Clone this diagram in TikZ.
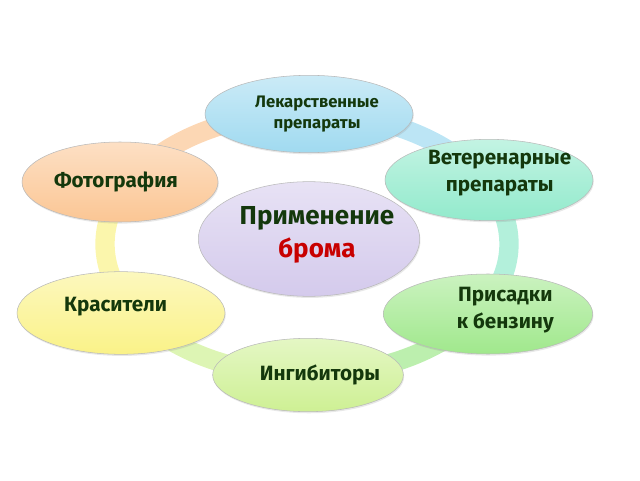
\documentclass[tikz,border=0pt]{standalone}
\usepackage{fontspec}
\setmainfont{Fira Sans}
\usetikzlibrary{shapes.geometric}
\usetikzlibrary{shadows}

\definecolor{txtgreen}{RGB}{20,56,12}
\definecolor{bromred}{RGB}{200,0,0}
\definecolor{lekblue}{RGB}{160,218,240}
\definecolor{vetmint}{RGB}{146,234,204}
\definecolor{prisgreen}{RGB}{160,232,140}
\definecolor{inglime}{RGB}{206,240,148}
\definecolor{krasyellow}{RGB}{250,242,136}
\definecolor{fotopeach}{RGB}{251,198,148}
\definecolor{centerlav}{RGB}{212,202,236}

\begin{document}
\begin{tikzpicture}[x=0.75pt, y=0.75pt,
		blob/.style={ellipse, draw=gray!55, thin, inner sep=0pt,
			drop shadow={opacity=0.18, shadow xshift=0.6pt, shadow yshift=-1.2pt}},
		lbl/.style={text=txtgreen, align=center, font=\bfseries\fontsize{15.5}{20}\selectfont}]
			\useasboundingbox (0,0) rectangle (640,480);

			% ring behind the ellipses
			\foreach \a/\b/\c in {90/27/lekblue, 27/-30/vetmint, -30/-90/prisgreen, -90/-152/inglime, -152/-207/krasyellow, -207/-270/fotopeach}
				\draw[line width=14.5, \c!70!white] ({307+202*cos(\a)}, {236+131*sin(\a)}) arc[start angle=\a, end angle=\b, x radius=202, y radius=131];

			% outer ellipses
			\node[blob, top color=lekblue!55!white, bottom color=lekblue, minimum width=156, minimum height=58] (lek) at (309, 366) {};
			\node[blob, top color=vetmint!55!white, bottom color=vetmint, minimum width=156, minimum height=61] (vet) at (489, 300) {};
			\node[blob, top color=prisgreen!55!white, bottom color=prisgreen, minimum width=157, minimum height=60] (pris) at (488, 166) {};
			\node[blob, top color=inglime!55!white, bottom color=inglime, minimum width=143, minimum height=55] (ing) at (308, 105) {};
			\node[blob, top color=krasyellow!55!white, bottom color=krasyellow, minimum width=156, minimum height=62] (kras) at (121, 167) {};
			\node[blob, top color=fotopeach!55!white, bottom color=fotopeach, minimum width=147, minimum height=60] (foto) at (120, 298) {};

			% centre
			\node[blob, top color=centerlav!55!white, bottom color=centerlav, minimum width=166, minimum height=86] (center) at (309, 241) {};

			% texts
			\node[lbl, font=\bfseries\fontsize{12.5}{15.5}\selectfont] (lekT) at ([xshift=6]lek.center) {Лекарственные\\препараты};
			\node[lbl] (vetT) at ([xshift=8, yshift=5]vet.center) {Ветеренарные\\препараты};
			\node[lbl] (prisT) at ([xshift=13, yshift=3]pris.center) {Присадки\\к бензину};
			\node[lbl] (ingT) at ([xshift=9]ing.center) {Ингибиторы};
			\node[lbl] (krasT) at ([xshift=-4, yshift=5]kras.center) {Красители};
			\node[lbl] (fotoT) at ([xshift=-3]foto.center) {Фотография};
			\node[lbl, font=\bfseries\fontsize{19.5}{24.5}\selectfont] (centerT) at ([xshift=6, yshift=3]center.center) {Применение\\\textcolor{bromred}{брома}};
		\end{tikzpicture}
\end{document}
